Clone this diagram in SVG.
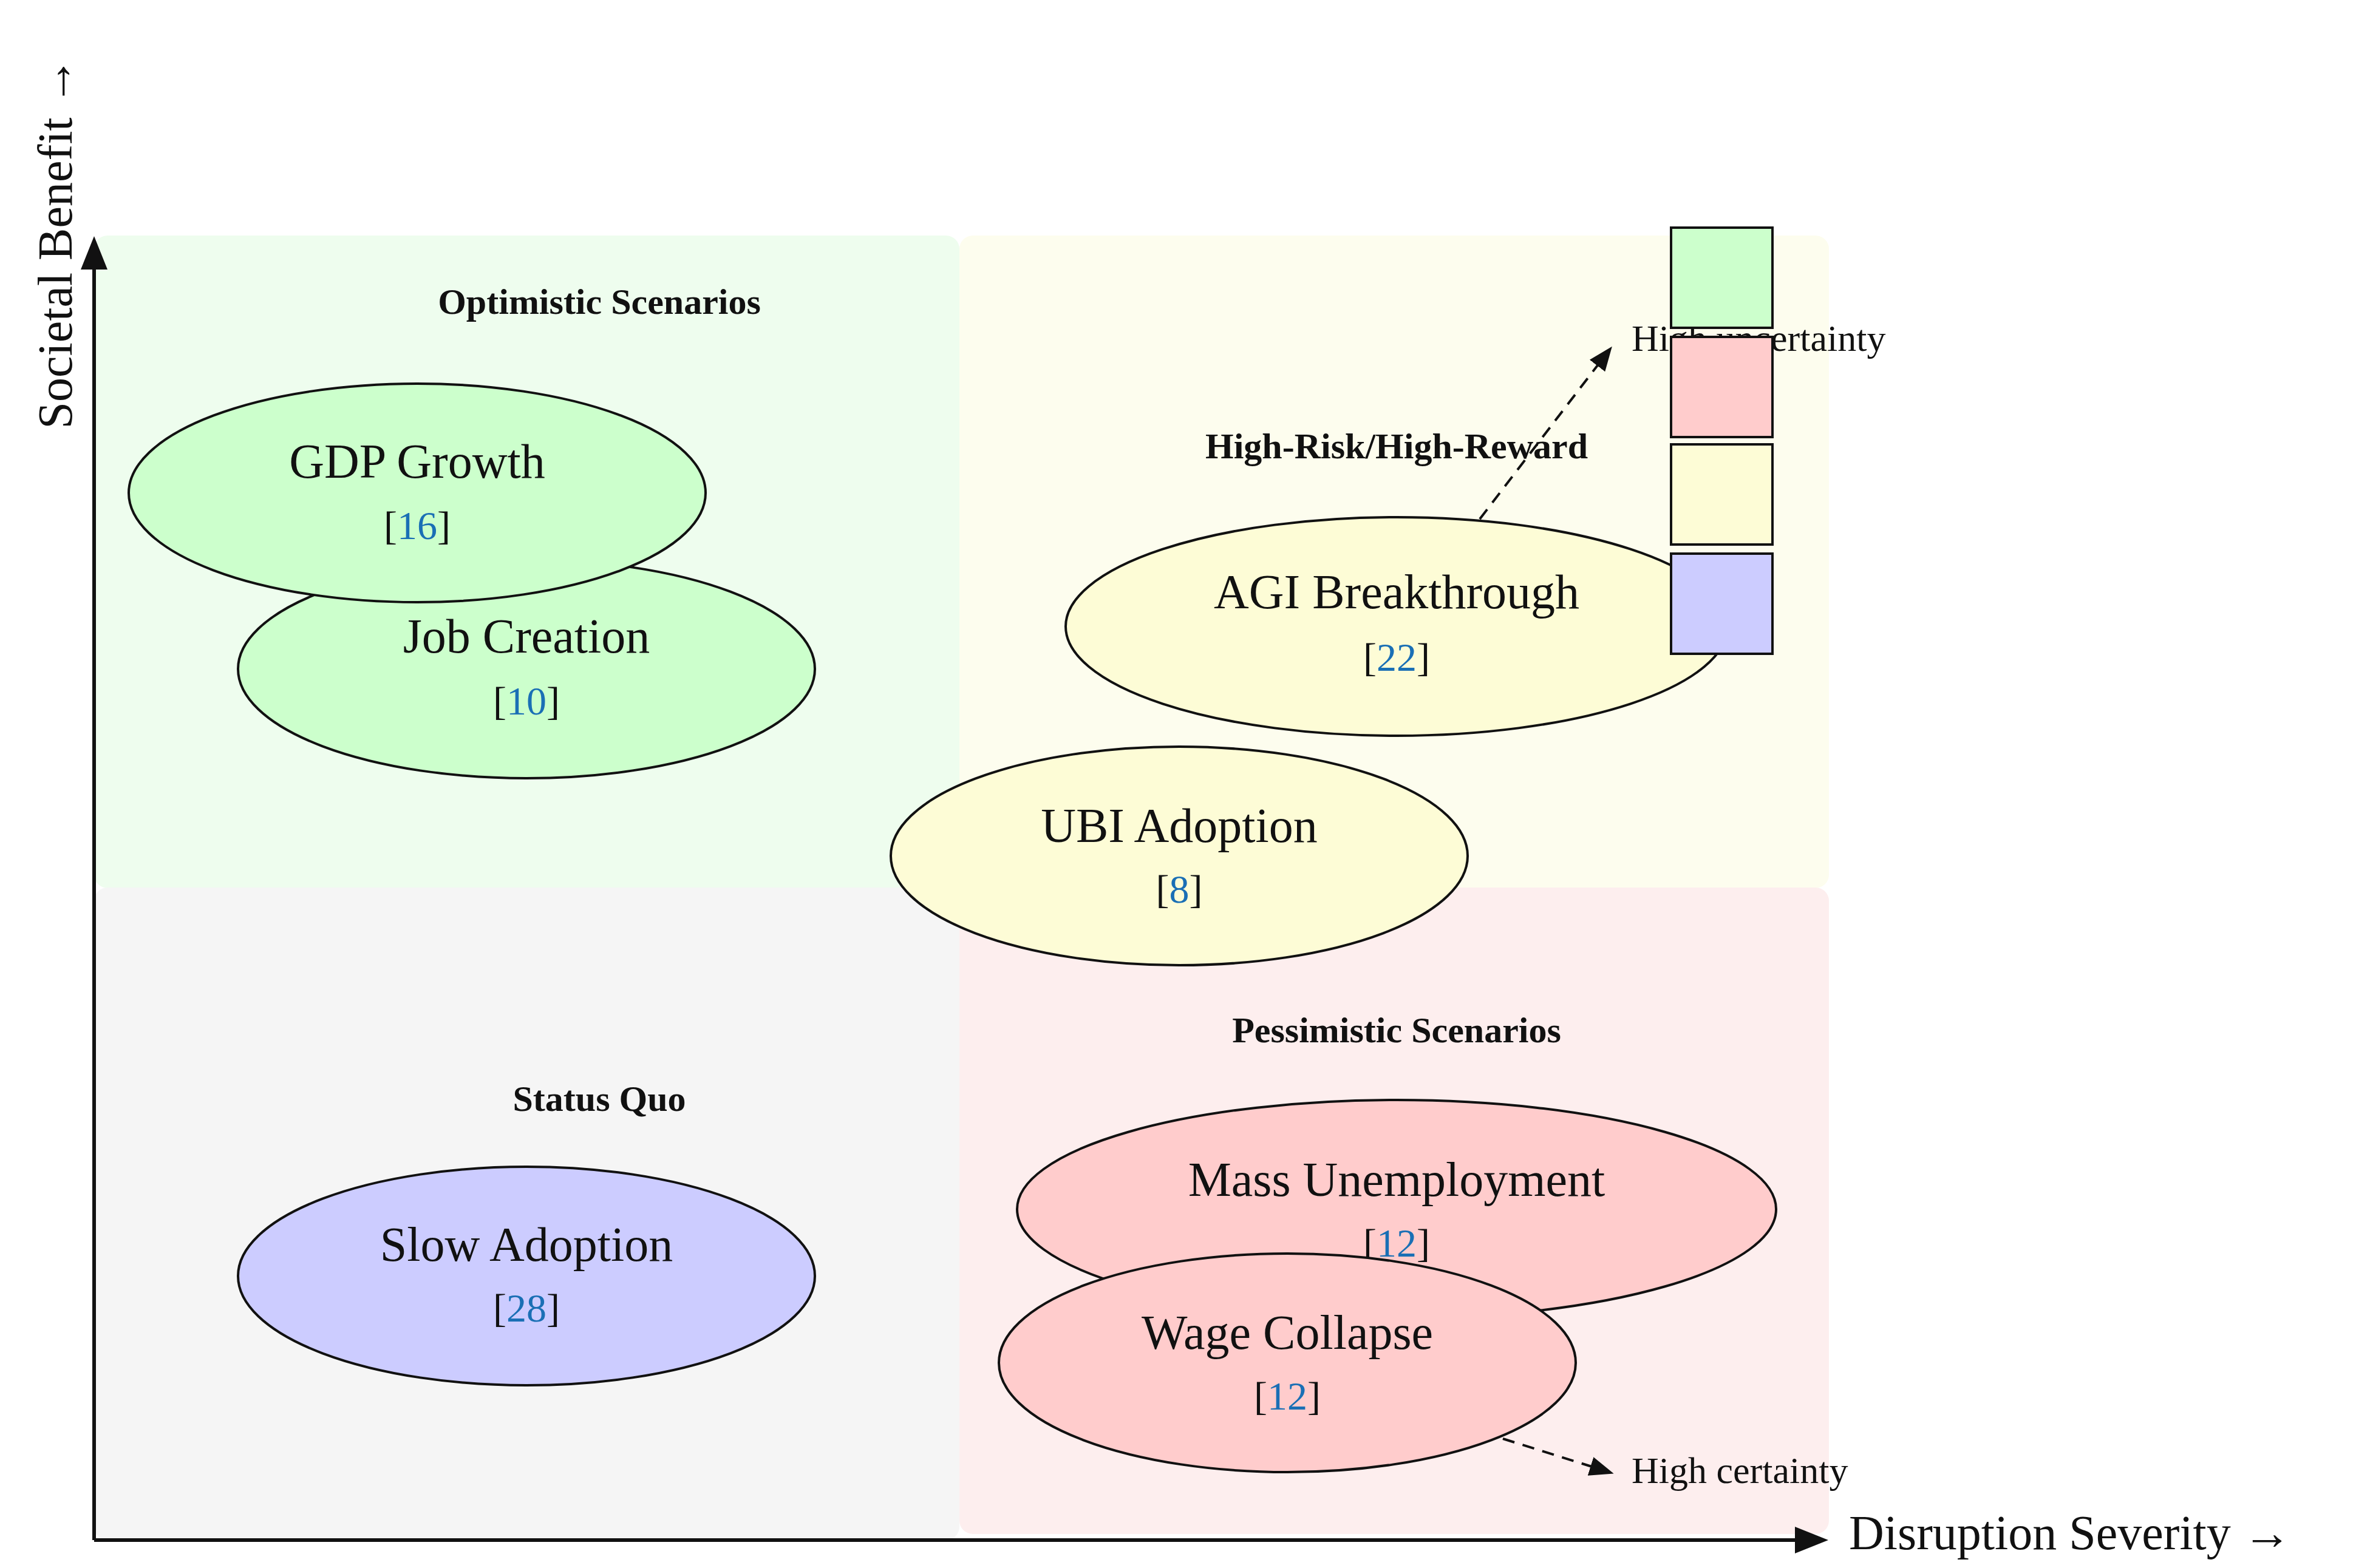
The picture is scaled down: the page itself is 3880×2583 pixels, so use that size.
<svg xmlns="http://www.w3.org/2000/svg" width="3880" height="2583" viewBox="0 0 3880 2583">
<defs>
<style>
text{font-family:"Liberation Serif",serif;fill:#111}
.t{font-size:80px;text-anchor:middle}
.c{font-size:66px;text-anchor:middle}
.c tspan.n{fill:#1a6fb5}
.h{font-size:60px;font-weight:bold;text-anchor:middle}
.s{font-size:62px}
.e{stroke:#111;stroke-width:4}
.ax{stroke:#111;stroke-width:6;fill:none}
.d{stroke:#111;stroke-width:4;stroke-dasharray:20 14;fill:none}
</style>
<marker id="a" viewBox="0 0 10 10" refX="9" refY="5" markerWidth="7" markerHeight="7" orient="auto" markerUnits="userSpaceOnUse" style="overflow:visible"><path d="M0,0L10,5L0,10z" fill="#111" transform="scale(3)" /></marker>
<marker id="b" viewBox="0 0 10 10" refX="8" refY="5" markerWidth="40" markerHeight="40" orient="auto" markerUnits="userSpaceOnUse"><path d="M0,1L10,5L0,9z" fill="#111"/></marker>
<marker id="ax" viewBox="0 0 10 10" refX="8" refY="5" markerWidth="55" markerHeight="55" orient="auto" markerUnits="userSpaceOnUse"><path d="M0,1L10,5L0,9z" fill="#111"/></marker>
</defs>
<rect width="3880" height="2583" fill="#fff"/>
<g id="quadrants">
<rect x="155" y="388" width="1425" height="1075" rx="22" fill="#eefdee"/>
<rect x="1580" y="388" width="1432" height="1075" rx="22" fill="#fdfdee"/>
<rect x="155" y="1462" width="1425" height="1075" rx="22" fill="#f5f5f5"/>
<rect x="1580" y="1462" width="1432" height="1065" rx="22" fill="#fdeeee"/>
<text class="h" x="987" y="517">Optimistic Scenarios</text>
<text class="h" x="2300" y="755">High-Risk/High-Reward</text>
<text class="h" x="987" y="1830">Status Quo</text>
<text class="h" x="2300" y="1717">Pessimistic Scenarios</text>
</g>
<g id="axes">
<path class="ax" d="M155,2537H3000" marker-end="url(#ax)"/>
<path class="ax" d="M155,2537V400" marker-end="url(#ax)"/>
<text x="3045" y="2552" style="font-size:80px">Disruption Severity →</text>
<text transform="translate(118,400) rotate(-90)" style="font-size:80px;text-anchor:middle">Societal Benefit →</text>
</g>
<g id="connectors">
<path class="d" d="M2437,855L2650,577" marker-end="url(#b)"/>
<path class="d" d="M2475,2370L2650,2425" marker-end="url(#b)"/>
</g>
<g id="job"><ellipse class="e" cx="867" cy="1102" rx="475" ry="180" fill="#ccffcc"/><text class="t" x="867" y="1075">Job Creation</text><text class="c" x="867" y="1177">[<tspan class="n">10</tspan>]</text></g>
<g id="gdp"><ellipse class="e" cx="687" cy="812" rx="475" ry="180" fill="#ccffcc"/><text class="t" x="687" y="787">GDP Growth</text><text class="c" x="687" y="888">[<tspan class="n">16</tspan>]</text></g>
<g id="agi"><ellipse class="e" cx="2300" cy="1032" rx="545" ry="180" fill="#fdfcd6"/><text class="t" x="2300" y="1002">AGI Breakthrough</text><text class="c" x="2300" y="1105">[<tspan class="n">22</tspan>]</text></g>
<g id="ubi"><ellipse class="e" cx="1942" cy="1410" rx="475" ry="180" fill="#fdfcd6"/><text class="t" x="1942" y="1387">UBI Adoption</text><text class="c" x="1942" y="1487">[<tspan class="n">8</tspan>]</text></g>
<g id="slow"><ellipse class="e" cx="867" cy="2102" rx="475" ry="180" fill="#ccccff"/><text class="t" x="867" y="2077">Slow Adoption</text><text class="c" x="867" y="2177">[<tspan class="n">28</tspan>]</text></g>
<g id="mass"><ellipse class="e" cx="2300" cy="1992" rx="625" ry="180" fill="#ffcccc"/><text class="t" x="2300" y="1970">Mass Unemployment</text><text class="c" x="2300" y="2070">[<tspan class="n">12</tspan>]</text></g>
<g id="wage"><ellipse class="e" cx="2120" cy="2245" rx="475" ry="180" fill="#ffcccc"/><text class="t" x="2120" y="2222">Wage Collapse</text><text class="c" x="2120" y="2322">[<tspan class="n">12</tspan>]</text></g>
<g id="labels">
<text class="s" x="2687" y="578">High uncertainty</text>
<text class="s" x="2687" y="2443">High certainty</text>
</g>
<g id="legend">
<rect class="e" x="2752" y="375" width="167" height="165" fill="#ccffcc"/>
<rect class="e" x="2752" y="555" width="167" height="165" fill="#ffcccc"/>
<rect class="e" x="2752" y="732" width="167" height="165" fill="#fdfcd6"/>
<rect class="e" x="2752" y="912" width="167" height="165" fill="#ccccff"/>
</g>
</svg>
